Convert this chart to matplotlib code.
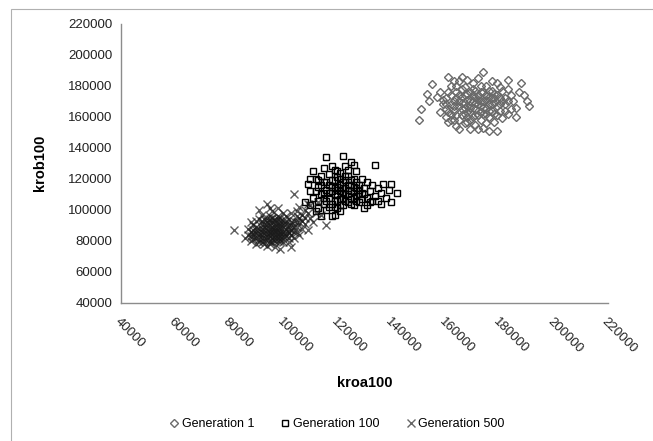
import numpy as np
import matplotlib.pyplot as plt
from matplotlib.lines import Line2D
from matplotlib.patches import Rectangle

# values, in thousands (kroa100, krob100)
gen1 = [
    (150, 158), (151, 165), (153, 175), (155, 181), (154, 170), (157, 173), (158, 176), (159, 168), (160, 165), (160, 172),
    (161, 186), (162, 180), (162, 162), (163, 158), (163, 170), (164, 176), (164, 154), (165, 152), (165, 167), (165, 183),
    (166, 161), (166, 173), (166, 186), (167, 156), (167, 169), (167, 179), (168, 163), (168, 175), (168, 184), (169, 158),
    (169, 170), (169, 152), (170, 166), (170, 178), (170, 182), (171, 161), (171, 173), (171, 155), (172, 168), (172, 185),
    (173, 163), (173, 176), (173, 158), (174, 189), (174, 170), (174, 153), (175, 166), (175, 180), (176, 160), (176, 173),
    (176, 151), (177, 177), (177, 164), (178, 169), (178, 157), (179, 151), (179, 182), (180, 172), (180, 164), (181, 177),
    (181, 159), (182, 168), (183, 184), (183, 162), (184, 174), (185, 170), (186, 166), (187, 176), (188, 182), (189, 174),
    (190, 170), (191, 167), (186, 160), (184, 165), (161, 176), (162, 168), (163, 164), (164, 172), (166, 178), (167, 162),
    (168, 171), (169, 166), (170, 160), (171, 169), (172, 174), (173, 167), (174, 162), (175, 171), (176, 168), (177, 172),
    (178, 175), (179, 167), (180, 179), (182, 172), (160, 160), (161, 157), (165, 174), (168, 157), (172, 152), (175, 156),
    (177, 183), (179, 161), (183, 178), (163, 183), (158, 163),
    (159, 171), (160, 168), (161, 163), (162, 174), (162, 158), (163, 167), (164, 161), (164, 180), (165, 170), (165, 158),
    (166, 165), (166, 169), (167, 174), (167, 166), (168, 160), (168, 167), (169, 163), (169, 176), (170, 170), (170, 174),
    (171, 165), (171, 177), (172, 161), (172, 171), (173, 170), (173, 180), (174, 166), (174, 176), (175, 162), (175, 174),
    (176, 164), (176, 177), (177, 168), (178, 162), (178, 172), (179, 174), (180, 168), (181, 170), (182, 164), (183, 170),
]
gen100 = [
    (108, 105), (109, 117), (110, 112), (110, 103), (111, 125), (111, 108), (112, 120), (112, 99), (113, 115), (113, 106),
    (114, 122), (114, 110), (114, 96), (115, 127), (115, 118), (115, 104), (116, 134), (116, 113), (116, 100), (117, 123),
    (117, 108), (118, 119), (118, 104), (118, 96), (119, 126), (119, 114), (119, 110), (120, 121), (120, 106), (120, 101),
    (121, 117), (121, 112), (121, 124), (122, 135), (122, 108), (122, 103), (123, 119), (123, 114), (123, 128), (124, 110),
    (124, 105), (124, 122), (125, 131), (125, 116), (125, 107), (126, 112), (126, 120), (126, 103), (127, 125), (127, 109),
    (128, 116), (128, 105), (129, 120), (129, 111), (130, 101), (130, 114), (131, 108), (131, 118), (132, 112), (132, 105),
    (133, 116), (134, 129), (134, 109), (135, 106), (135, 114), (136, 111), (137, 117), (138, 108), (139, 113), (140, 105),
    (140, 117), (142, 111), (113, 101), (116, 106), (117, 116), (118, 112), (119, 102), (120, 115), (121, 107), (122, 118),
    (123, 110), (124, 116), (125, 112), (126, 108), (127, 114), (128, 110), (110, 120), (112, 112), (114, 116), (115, 108),
    (117, 102), (119, 97), (121, 99), (125, 104), (129, 107), (131, 103), (133, 106), (136, 104), (120, 125), (118, 128),
    (124, 126), (126, 129), (115, 111), (113, 119),
    (116, 118), (117, 111), (118, 115), (119, 119), (119, 106), (120, 110), (120, 113), (121, 103), (121, 120), (122, 111),
    (122, 114), (123, 106), (123, 122), (124, 113), (125, 119), (126, 115), (127, 106), (127, 118), (128, 113), (130, 110),
]
gen500 = [
    (82, 87), (86, 82), (87, 84), (88, 80), (88, 86), (89, 83), (89, 90), (90, 78), (90, 85), (90, 93),
    (91, 81), (91, 88), (91, 100), (92, 79), (92, 84), (92, 91), (92, 97), (93, 82), (93, 87), (93, 94),
    (94, 77), (94, 85), (94, 90), (94, 104), (95, 80), (95, 83), (95, 88), (95, 96), (96, 79), (96, 86),
    (96, 92), (96, 99), (97, 82), (97, 89), (97, 94), (97, 76), (98, 84), (98, 87), (98, 91), (98, 101),
    (99, 80), (99, 86), (99, 95), (99, 75), (100, 83), (100, 89), (100, 93), (100, 98), (101, 85), (101, 91),
    (101, 96), (102, 82), (102, 88), (102, 94), (103, 76), (103, 90), (103, 98), (104, 86), (104, 93), (104, 110),
    (105, 89), (105, 96), (106, 84), (106, 92), (107, 88), (107, 97), (108, 91), (108, 100), (109, 87), (110, 95),
    (110, 103), (111, 92), (112, 98), (116, 90), (89, 87), (90, 82), (91, 85), (92, 88), (93, 80), (93, 91),
    (94, 83), (94, 87), (95, 85), (95, 92), (96, 82), (96, 89), (97, 86), (97, 91), (98, 80), (98, 94),
    (99, 89), (99, 83), (100, 86), (101, 88), (102, 85), (103, 87), (104, 82), (105, 99), (106, 95), (95, 101),
    (92, 86), (91, 94), (88, 92), (87, 88), (100, 79), (102, 79), (106, 102), (109, 104), (113, 105), (114, 97),
    (88, 83), (89, 85), (89, 81), (90, 87), (90, 89), (91, 83), (91, 79), (92, 82), (92, 93), (93, 85),
    (93, 89), (93, 78), (94, 81), (94, 92), (94, 95), (95, 78), (95, 86), (95, 90), (95, 94), (96, 84),
    (96, 81), (96, 88), (96, 95), (97, 80), (97, 84), (97, 87), (97, 93), (98, 82), (98, 86), (98, 89),
    (98, 96), (99, 81), (99, 85), (99, 91), (99, 93), (100, 81), (100, 85), (100, 91), (101, 83), (101, 93),
    (102, 86), (102, 90), (103, 84), (103, 92), (104, 89), (105, 86), (105, 92), (107, 93), (108, 95), (109, 98),
]
labels = ['Generation 1', 'Generation 100', 'Generation 500']
ticks = np.arange(40000, 220001, 20000)

plt.rcParams['font.family'] = ['Liberation Sans', 'DejaVu Sans']

fig = plt.figure(figsize=(6.53, 4.41), dpi=100)
ax = fig.add_axes([0.185, 0.313, 0.746, 0.633])

# chart frame (left and top edges visible)
fig.patches.append(Rectangle((0.017, -0.05), 1.1, 1.03, transform=fig.transFigure,
                             fill=False, edgecolor='#b0b0b0', linewidth=0.8))

g1 = np.array(gen1) * 1000
g100 = np.array(gen100) * 1000
g500 = np.array(gen500) * 1000

ax.plot(g1[:, 0], g1[:, 1], 'D', ms=4.5, mfc='none', mec='#6a6a6a', mew=1.0, ls='none')
ax.plot(g100[:, 0], g100[:, 1], 's', ms=4.8, mfc='none', mec='black', mew=1.0, ls='none')
ax.plot(g500[:, 0], g500[:, 1], 'x', ms=6, color='#1a1a1a', mew=1.0, alpha=0.7, ls='none')

ax.set_xlim(40000, 220000)
ax.set_ylim(40000, 220000)
ax.set_xticks(ticks)
ax.set_yticks(ticks)
ax.set_xticklabels([str(t) for t in ticks], rotation=-45, ha='left', va='top',
                   rotation_mode='anchor', fontsize=9.5)
ax.set_yticklabels([str(t) for t in ticks], fontsize=9.5)
ax.tick_params(length=0, pad=6, colors='#222222')
ax.tick_params(axis='x', pad=9)
for s in ['top', 'right']:
    ax.spines[s].set_visible(False)
for s in ['left', 'bottom']:
    ax.spines[s].set_color('#8c8c8c')
    ax.spines[s].set_linewidth(1.0)

fig.text(0.559, 0.132, 'kroa100', ha='center', va='center', fontsize=10.5, fontweight='bold')
fig.text(0.062, 0.63, 'krob100', ha='center', va='center', rotation=90, fontsize=10.5, fontweight='bold')

handles = [
    Line2D([], [], marker='D', ms=4.5, mfc='none', mec='#6a6a6a', mew=1.0, ls='none'),
    Line2D([], [], marker='s', ms=4.5, mfc='none', mec='black', mew=1.0, ls='none'),
    Line2D([], [], marker='x', ms=6, color='#666666', mew=1.0, ls='none'),
]
fig.legend(handles, labels, loc='center', bbox_to_anchor=(0.515, 0.038), ncol=3,
           frameon=False, fontsize=9, handletextpad=0.1, columnspacing=2.0, handlelength=1.0)

fig.savefig('out.png', dpi=100)
